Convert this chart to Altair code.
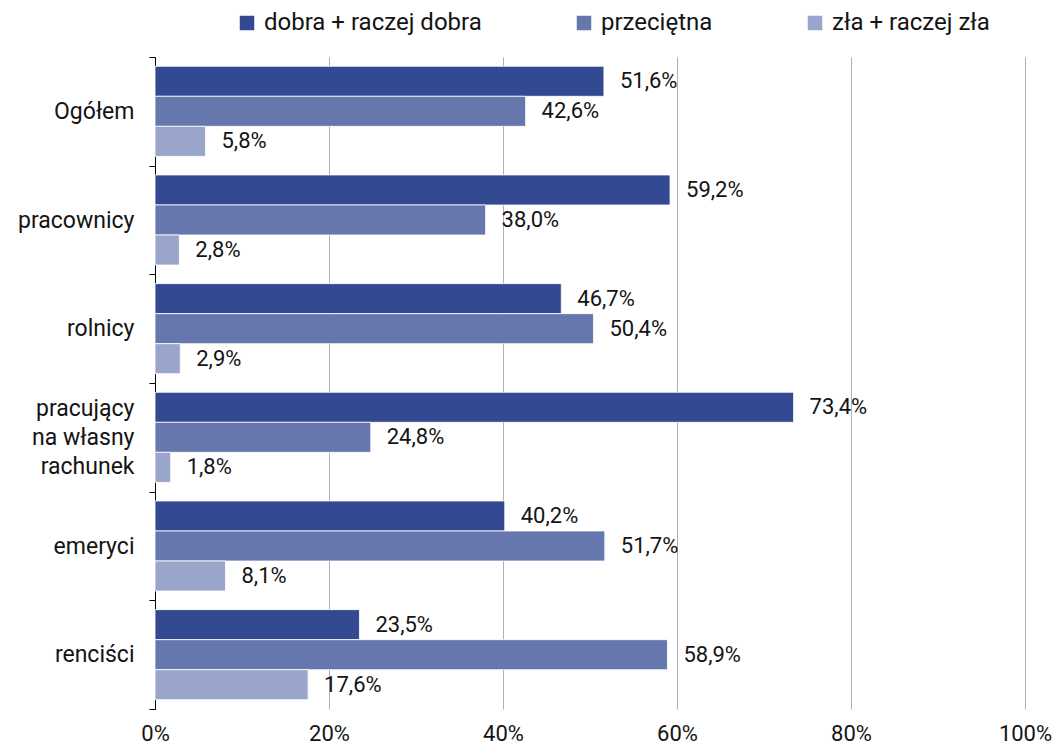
import altair as alt
import pandas as pd

categories = ["Ogółem", "pracownicy", "rolnicy", "pracujący|na własny|rachunek", "emeryci", "renciści"]
series = ["dobra + raczej dobra", "przeciętna", "zła + raczej zła"]
good = [51.6, 59.2, 46.7, 73.4, 40.2, 23.5]
average = [42.6, 38.0, 50.4, 24.8, 51.7, 58.9]
bad = [5.8, 2.8, 2.9, 1.8, 8.1, 17.6]
colors = ["#334a93", "#6677ad", "#9aa5cb"]

rows = []
for i, c in enumerate(categories):
    for s, vals in zip(series, [good, average, bad]):
        v = vals[i]
        rows.append({"cat": c, "series": s, "value": v,
                     "label": f"{v:.1f}".replace(".", ",") + "%"})
df = pd.DataFrame(rows)

FONT = "Roboto"
TXT = "#141414"

y = alt.Y("cat:N", sort=categories, title=None,
          scale=alt.Scale(paddingInner=0, paddingOuter=0),
          axis=alt.Axis(labelExpr="split(datum.label, '|')", labelFontSize=23,
                        labelColor=TXT, labelFont=FONT, labelPadding=15,
                        labelOffset=alt.condition("datum.value == 'pracujący|na własny|rachunek'",
                                                  alt.value(-29), alt.value(0)),
                        tickBand="extent", tickSize=6, tickColor="#000",
                        domainColor="#000", labelLineHeight=29, grid=False))
yoff = alt.YOffset("series:N", sort=series,
                   scale=alt.Scale(paddingInner=0, paddingOuter=0.31))

bars = alt.Chart(df).mark_bar(stroke="white", strokeWidth=0.8).encode(
    y=y, yOffset=yoff,
    x=alt.X("value:Q", scale=alt.Scale(domain=[0, 100]), title=None,
            axis=alt.Axis(values=[0, 20, 40, 60, 80, 100], labelExpr="datum.value + '%'",
                          labelFontSize=22, labelColor=TXT, labelFont=FONT,
                          labelFlush=False, domain=False, ticks=False, labelPadding=14,
                          grid=True, gridColor="#b0b0b0", gridWidth=1)),
    color=alt.Color("series:N", sort=series,
                    scale=alt.Scale(domain=series, range=colors),
                    legend=alt.Legend(title=None, orient="none", direction="horizontal",
                                      legendX=80, legendY=-46, symbolType="square",
                                      symbolSize=210, symbolStrokeWidth=0, labelLimit=400,
                                      labelFontSize=24, labelFont=FONT, labelColor=TXT,
                                      columnPadding=90, symbolOffset=0, labelOffset=5)),
)

text = alt.Chart(df).mark_text(align="left", baseline="middle", dx=16, fontSize=22,
                               font=FONT, color=TXT).encode(
    y=alt.Y("cat:N", sort=categories), yOffset=yoff, x="value:Q", text="label:N")

chart = alt.layer(bars, text).properties(
    width=870, height=652,
    autosize=alt.AutoSizeParams(type="none"),
    padding={"left": 147, "top": 49, "right": 31, "bottom": 36},
).configure_view(stroke=None)

chart.save("out.html", embed_options={"renderer": "svg", "actions": False})
